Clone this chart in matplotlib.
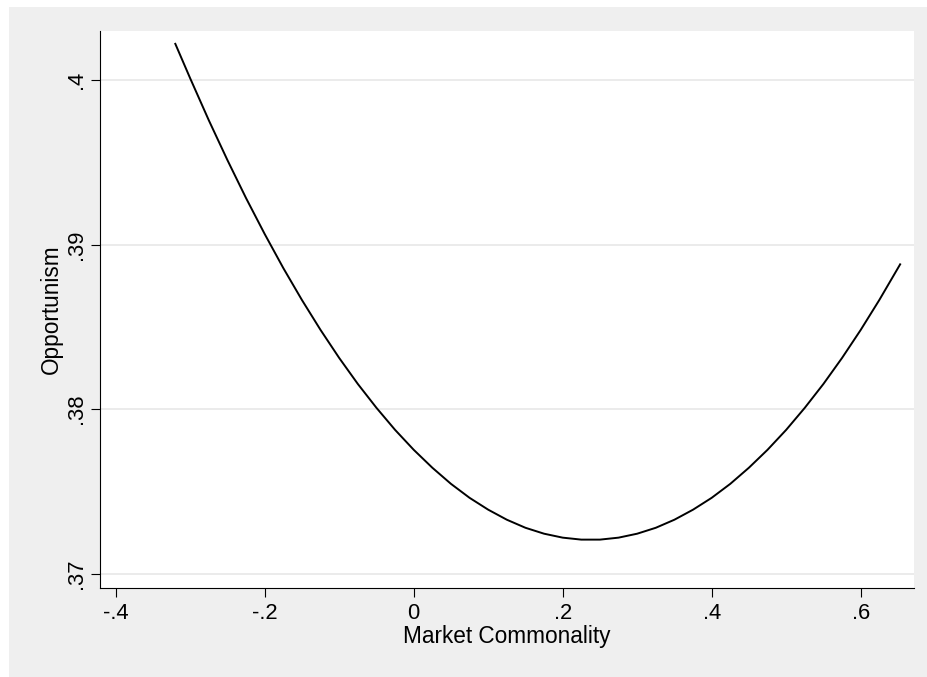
import matplotlib.pyplot as plt
from matplotlib.patches import Rectangle

plt.rcParams['font.family'] = ['Liberation Sans', 'DejaVu Sans']

# predicted opportunism
market_commonality = [-0.32, -0.30, -0.275, -0.25, -0.225, -0.20, -0.175, -0.15, -0.125, -0.10,
                      -0.075, -0.05, -0.025, 0.0, 0.025, 0.05, 0.075, 0.10, 0.125, 0.15,
                      0.175, 0.20, 0.225, 0.25, 0.275, 0.30, 0.325, 0.35, 0.375, 0.40,
                      0.425, 0.45, 0.475, 0.50, 0.525, 0.55, 0.575, 0.60, 0.625, 0.653]
opportunism = [0.4022, 0.4001, 0.39755, 0.39513, 0.39282, 0.39064, 0.38857, 0.38663, 0.38481, 0.38311,
               0.38153, 0.38008, 0.37874, 0.37753, 0.37644, 0.37546, 0.37461, 0.37389, 0.37328, 0.37279,
               0.37243, 0.37219, 0.37207, 0.37207, 0.37219, 0.37243, 0.37279, 0.37328, 0.37389, 0.37461,
               0.37546, 0.37644, 0.37753, 0.37874, 0.38008, 0.38153, 0.38311, 0.38481, 0.38663, 0.3888]

x_ticks = [-0.4, -0.2, 0.0, 0.2, 0.4, 0.6]
x_tick_labels = ['-.4', '-.2', '0', '.2', '.4', '.6']
y_ticks = [0.37, 0.38, 0.39, 0.40]
y_tick_labels = ['.37', '.38', '.39', '.4']

W, H = 927, 677
fig = plt.figure(figsize=(W / 100, H / 100), dpi=100, facecolor='white')
# stata style grey graph region, kept behind the axes
fig.add_artist(Rectangle((9 / W, 0), (W - 9) / W, (H - 7) / H, transform=fig.transFigure,
                         facecolor='#EFEFEF', edgecolor='none', zorder=-10))

ax = fig.add_axes([100 / W, 1 - 588 / H, 814 / W, 557 / H])
ax.set_zorder(1)
ax.set_facecolor('white')

ax.plot(market_commonality, opportunism, color='black', linewidth=1.4, zorder=3)

ax.set_xlim(-0.4211, 0.6716)
ax.set_ylim(0.36913, 0.40298)

ax.set_xticks(x_ticks)
ax.set_xticklabels(x_tick_labels)
ax.set_yticks(y_ticks)
ax.set_yticklabels(y_tick_labels, rotation=90, va='center')

ax.grid(axis='y', color='#E8E8E8', linewidth=1.2)
ax.set_axisbelow(True)

for side in ['top', 'right']:
    ax.spines[side].set_visible(False)
for side in ['left', 'bottom']:
    ax.spines[side].set_linewidth(0.8)
    ax.spines[side].set_color('black')

ax.tick_params(axis='both', direction='out', length=6.7, width=0.8, labelsize=15.8, colors='black')
ax.tick_params(axis='x', pad=4)
ax.tick_params(axis='y', pad=3)

ax.set_xlabel('Market Commonality', fontsize=16.3, labelpad=1)
ax.set_ylabel('Opportunism', fontsize=16.3, labelpad=2)

fig.savefig('out.png', dpi=100, facecolor=fig.get_facecolor())
